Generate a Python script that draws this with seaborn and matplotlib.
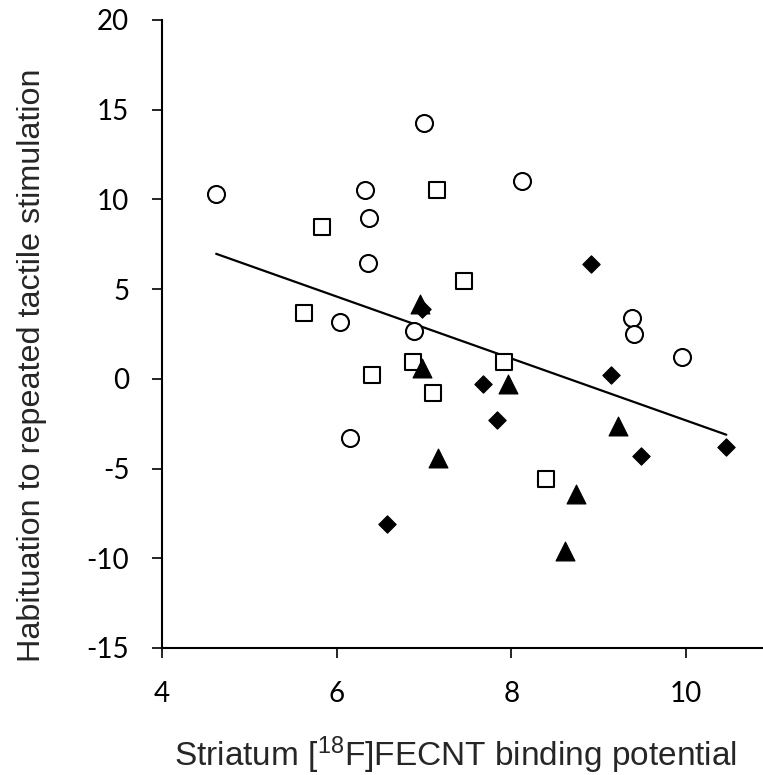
import numpy as np
import pandas as pd
import matplotlib
matplotlib.use("Agg")
import matplotlib.pyplot as plt
import seaborn as sns

# values (x: binding potential, y: habituation)
circle_x = [4.62, 6.32, 6.37, 6.36, 7.00, 8.12, 6.04, 6.89, 6.15, 9.38, 9.40, 9.95]
circle_y = [10.28, 10.50, 8.99, 6.48, 14.25, 11.0, 3.18, 2.68, -3.30, 3.41, 2.51, 1.23]

square_x = [5.83, 7.15, 5.63, 6.87, 6.40, 7.10, 7.46, 7.92, 8.40]
square_y = [8.49, 10.50, 3.69, 0.95, 0.22, -0.78, 5.47, 0.95, -5.59]

diamond_x = [6.98, 8.91, 7.68, 7.84, 9.14, 9.48, 10.46, 6.58]
diamond_y = [3.91, 6.42, -0.28, -2.29, 0.22, -4.30, -3.80, -8.10]

triangle_x = [6.95, 6.98, 7.96, 9.22, 7.16, 8.74, 8.61]
triangle_y = [4.19, 0.61, -0.28, -2.63, -4.41, -6.42, -9.61]

x_ticks = [4, 6, 8, 10]
y_ticks = [-15, -10, -5, 0, 5, 10, 15, 20]

groups = {
    "circle": (circle_x, circle_y),
    "square": (square_x, square_y),
    "diamond": (diamond_x, diamond_y),
    "triangle": (triangle_x, triangle_y),
}
df = pd.concat(
    [pd.DataFrame({"bp": gx, "hab": gy, "group": name}) for name, (gx, gy) in groups.items()],
    ignore_index=True,
)

sns.set_style("ticks")
plt.rcParams["font.family"] = ["Liberation Sans", "DejaVu Sans"]
plt.rcParams["mathtext.fontset"] = "custom"
plt.rcParams["mathtext.rm"] = "Liberation Sans"

fig = plt.figure(figsize=(7.63, 7.75), dpi=100)
ax = fig.add_axes([162 / 763, 127 / 775, 1 - 162 / 763, (648 - 20) / 775])

# marker style per group
styles = {
    "circle": dict(marker="o", s=150, facecolor="white", linewidth=1.5),
    "square": dict(marker="s", s=132, facecolor="white", linewidth=1.5),
    "diamond": dict(marker="D", s=78, facecolor="black", linewidth=0.8),
    "triangle": dict(marker="^", s=185, facecolor="black", linewidth=0.8),
}
for name, st in styles.items():
    sub = df[df["group"] == name]
    sns.scatterplot(data=sub, x="bp", y="hab", ax=ax, marker=st["marker"], s=st["s"],
                    color=st["facecolor"], edgecolor="black", linewidth=st["linewidth"],
                    legend=False, zorder=3)

# linear fit over all subjects
sns.regplot(data=df, x="bp", y="hab", ax=ax, scatter=False, ci=None, truncate=True,
            line_kws=dict(color="black", linewidth=1.6, zorder=2))

ax.set_xlim(4, 10.88)
ax.set_ylim(-15, 20)
ax.set_xticks(x_ticks)
ax.set_yticks(y_ticks)
ax.set_xticklabels([str(t) for t in x_ticks], family="Lato", fontsize=20)
ax.set_yticklabels([str(t) for t in y_ticks], family="Lato", fontsize=20)
ax.tick_params(direction="out", length=7.5, width=1.2, pad=16, colors="black")

for side in ["left", "bottom"]:
    ax.spines[side].set_linewidth(1.5)
    ax.spines[side].set_color("black")
sns.despine(ax=ax)

ax.set_xlabel(r"Striatum [$\mathregular{^{18}}$F]FECNT binding potential", fontsize=24)
ax.set_ylabel("Habituation to repeated tactile stimulation", fontsize=23.3)
ax.xaxis.set_label_coords(0.489, -0.1385)
ax.yaxis.set_label_coords(-0.191, 0.45)

fig.savefig("out.png", dpi=100)
